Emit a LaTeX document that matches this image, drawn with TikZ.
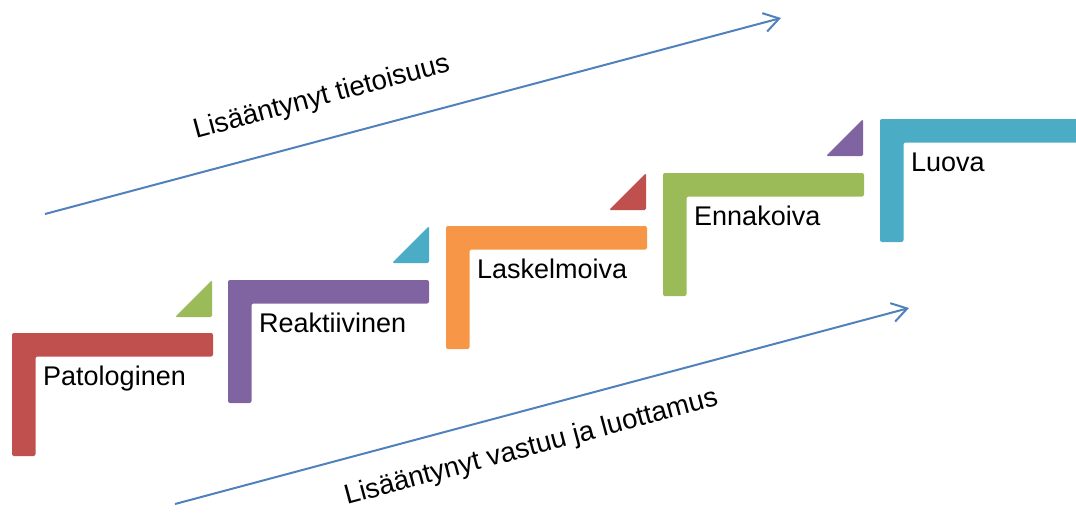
\documentclass[tikz,border=0pt]{standalone}
\usepackage{fontspec}
\setmainfont{Liberation Sans}
\usetikzlibrary{arrows.meta}
\definecolor{stepred}{HTML}{C0504D}
\definecolor{steppurple}{HTML}{8064A2}
\definecolor{steporange}{HTML}{F79646}
\definecolor{stepgreen}{HTML}{9BBB59}
\definecolor{stepblue}{HTML}{4BACC6}
\definecolor{arrowblue}{HTML}{4F81BD}
\tikzset{
  steplabel/.style={anchor=base west, inner sep=0pt, text=black},
  trendarrow/.style={draw=arrowblue, line width=2pt,
    -{Straight Barb[length=15pt,width=19pt]}},
  trendlabel/.style={anchor=base west, inner sep=0pt, rotate=15, text=black,
    font=\fontsize{27.6}{32}\selectfont},
}
\begin{document}
\begin{tikzpicture}[x=1pt,y=-1pt,font=\fontsize{27}{32}\selectfont]
\useasboundingbox (0,0) rectangle (1076,515);
\clip (0,0) rectangle (1076,515);

% L-shaped stair steps: left x, top y, colour, label, name
\foreach \sx/\sy/\col/\txt/\nm in {
    12/333/stepred/Patologinen/patol,
    228/280/steppurple/Reaktiivinen/reakt,
    446/226/steporange/Laskelmoiva/laske,
    663/173/stepgreen/Ennakoiva/ennak,
    880/119/stepblue/Luova/luova}{
  \fill[\col, rounded corners=2pt]
    (\sx,{\sy+123}) -- (\sx,\sy) -- ({\sx+201},\sy) -- ({\sx+201},{\sy+23.5})
    -- ({\sx+23.5},{\sy+23.5}) -- ({\sx+23.5},{\sy+123}) -- cycle;
  \node[steplabel] (\nm) at ({\sx+31},{\sy+52.5}) {\txt};
}

% small corner triangles between the steps: right edge x, top y, colour
\foreach \tx/\ty/\col in {
    212/280/stepgreen,
    429/226/stepblue,
    646/173/stepred,
    863/119/steppurple}{
  \fill[\col, rounded corners=1.5pt]
    ({\tx-37},{\ty+37}) -- (\tx,{\ty+37}) -- (\tx,\ty) -- cycle;
}

% trend arrows
\coordinate (awareStart) at (45,214);
\coordinate (awareEnd) at (781,18);
\coordinate (trustStart) at (175,504);
\coordinate (trustEnd) at (909,308);
\draw[trendarrow] (awareStart) -- (awareEnd);
\draw[trendarrow] (trustStart) -- (trustEnd);

\node[trendlabel] (aware) at (196,139) {Lisääntynyt tietoisuus};
\node[trendlabel] (trust) at (347,505) {Lisääntynyt vastuu ja luottamus};
\end{tikzpicture}
\end{document}
